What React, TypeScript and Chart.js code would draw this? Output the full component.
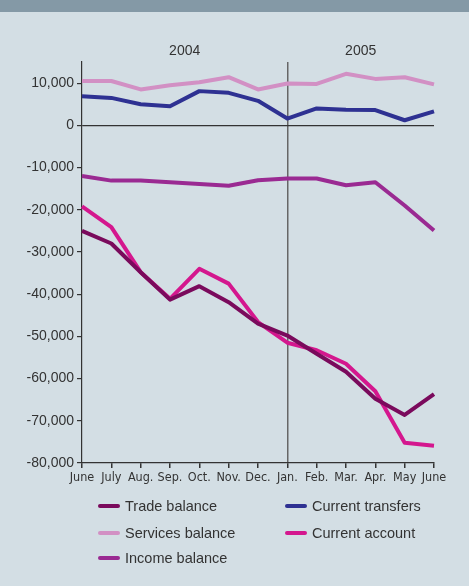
import React, { useEffect, useRef } from 'react';
import { Chart, registerables } from 'chart.js';

Chart.register(...registerables);

// Months from June 2004 to June 2005
const months = ['June', 'July', 'Aug.', 'Sep.', 'Oct.', 'Nov.', 'Dec.', 'Jan.', 'Feb.', 'Mar.', 'Apr.', 'May', 'June'];

// Year headings and the month index span each one covers
const yearLabels = ['2004', '2005'];
const yearStart = [0, 7];
const yearEnd = [7, 12];

// Monthly balances
const tradeBalance = [-25000, -28000, -34800, -41300, -38100, -41900, -47000, -49800, -54100, -58400, -64800, -68600, -63700];
const currentTransfers = [6900, 6500, 5000, 4500, 8100, 7700, 5800, 1600, 4000, 3700, 3600, 1200, 3300];
const servicesBalance = [10500, 10500, 8500, 9500, 10200, 11400, 8500, 9900, 9800, 12200, 11000, 11400, 9700];
const currentAccount = [-19200, -24100, -34800, -41100, -34000, -37500, -46600, -51500, -53300, -56500, -63000, -75200, -75900];
const incomeBalance = [-12000, -13100, -13100, -13500, -13900, -14300, -13000, -12600, -12600, -14200, -13500, -19000, -24900];

const seriesNames = ['Trade balance', 'Current transfers', 'Services balance', 'Current account', 'Income balance'];
const seriesColors = ['#7a0a5c', '#2e3192', '#d290c4', '#d4178e', '#9a2a92'];
const seriesValues = [tradeBalance, currentTransfers, servicesBalance, currentAccount, incomeBalance];

// Value axis range and labelled ticks
const yMin = -80000;
const yMax = 15000;
const yTicks = [-80000, -70000, -60000, -50000, -40000, -30000, -20000, -10000, 0, 10000];

const TEXT = '#333333';
const BASE_FONT = '"Liberation Sans", Arial, sans-serif';
const NARROW_FONT = '"Liberation Sans Narrow", "DejaVu Sans Condensed", "Liberation Sans", sans-serif';

// Writes the year headings above the plot, centred over their month spans
const yearHeadings = {
  id: 'yearHeadings',
  afterDraw(chart: any) {
    const x = chart.scales.x;
    const ctx = chart.ctx;
    ctx.save();
    ctx.fillStyle = TEXT;
    ctx.font = `14px ${BASE_FONT}`;
    ctx.textAlign = 'center';
    ctx.textBaseline = 'middle';
    yearLabels.forEach((label, i) => {
      const cx = (x.getPixelForValue(yearStart[i]) + x.getPixelForValue(yearEnd[i])) / 2;
      ctx.fillText(label, cx, chart.chartArea.top - 11);
    });
    ctx.restore();
  },
};

export default function App() {
  const canvasRef = useRef<HTMLCanvasElement | null>(null);

  useEffect(() => {
    if (!canvasRef.current) return;
    const chart = new Chart(canvasRef.current, {
      type: 'line',
      data: {
        labels: months,
        datasets: seriesValues.map((values, i) => ({
          label: seriesNames[i],
          data: values,
          borderColor: seriesColors[i],
          backgroundColor: seriesColors[i],
          borderWidth: 4,
          pointRadius: 0,
          tension: 0,
          borderJoinStyle: 'round' as const,
          fill: false,
        })),
      },
      options: {
        responsive: false,
        animation: false,
        events: [],
        layout: { padding: { left: 0, top: 62, right: 35, bottom: 93 } },
        plugins: {
          legend: { display: false },
          tooltip: { enabled: false },
        },
        scales: {
          x: {
            type: 'category',
            offset: false,
            border: { color: TEXT, width: 1.2 },
            grid: {
              color: (c: any) => (c.index === 7 ? '#666666' : 'rgba(0,0,0,0)'),
              lineWidth: 1.5,
              tickColor: TEXT,
              tickLength: 5,
              drawOnChartArea: true,
            },
            ticks: {
              autoSkip: false,
              maxRotation: 0,
              color: TEXT,
              padding: 2,
              font: { family: NARROW_FONT, size: 12.5 },
            },
            afterFit(scale: any) {
              scale.height = 30;
            },
          },
          y: {
            min: yMin,
            max: yMax,
            border: { color: TEXT, width: 1.2 },
            grid: {
              color: (c: any) => (c.tick && c.tick.value === 0 ? TEXT : 'rgba(0,0,0,0)'),
              lineWidth: 1.2,
              tickColor: TEXT,
              tickLength: 5,
            },
            ticks: {
              autoSkip: false,
              color: TEXT,
              padding: 3,
              font: { family: BASE_FONT, size: 14 },
              callback: (v: any) => Number(v).toLocaleString('en-US'),
            },
            afterBuildTicks(scale: any) {
              scale.ticks = yTicks.map((value) => ({ value }));
            },
            afterFit(scale: any) {
              scale.width = 82;
            },
          },
        },
      },
      plugins: [yearHeadings],
    });
    return () => chart.destroy();
  }, []);

  const legendRows = [
    [0, 1],
    [2, 3],
    [4],
  ];
  const rowY = [506, 533, 558];
  const colX = [98, 285];

  return (
    <div
      style={{
        position: 'absolute',
        left: 0,
        top: 0,
        width: 469,
        height: 586,
        background: '#d3dee4',
        overflow: 'hidden',
        fontFamily: BASE_FONT,
      }}
    >
      <div style={{ position: 'absolute', left: 0, top: 0, width: 469, height: 12, background: '#8499a6' }} />
      <canvas
        ref={canvasRef}
        width={469}
        height={586}
        style={{ position: 'absolute', left: 0, top: 0, width: 469, height: 586 }}
      />
      {legendRows.map((row, r) =>
        row.map((idx, c) => (
          <div
            key={seriesNames[idx]}
            style={{
              position: 'absolute',
              left: colX[c],
              top: rowY[r] - 10,
              height: 20,
              display: 'flex',
              alignItems: 'center',
              whiteSpace: 'nowrap',
            }}
          >
            <span
              style={{
                display: 'inline-block',
                width: 22,
                height: 4,
                borderRadius: 2,
                background: seriesColors[idx],
                marginRight: 5,
              }}
            />
            <span style={{ fontSize: 14.5, color: TEXT }}>{seriesNames[idx]}</span>
          </div>
        ))
      )}
    </div>
  );
}
